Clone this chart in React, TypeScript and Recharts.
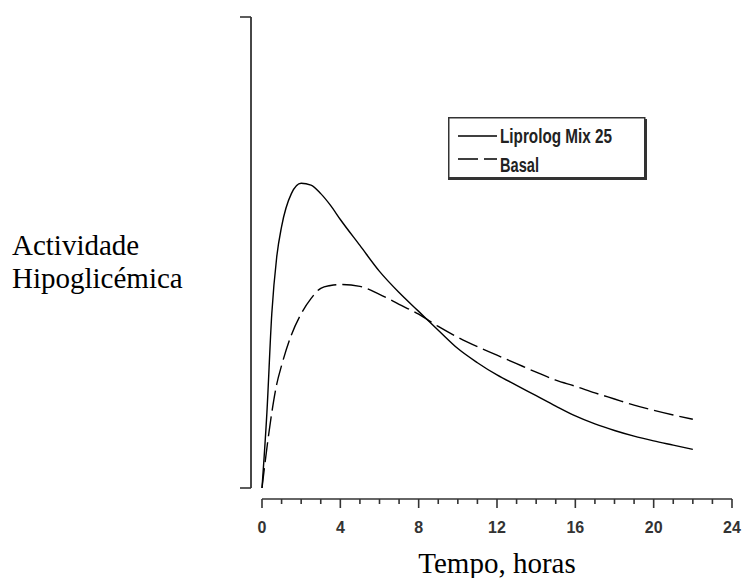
import { LineChart, Line, XAxis, YAxis, Legend } from "recharts";

const hours = [0, 0.25, 0.5, 0.75, 1, 1.5, 2, 2.5, 3, 3.5, 4, 5, 6, 7, 8, 9, 10, 11, 12, 13, 14, 15, 16, 17, 18, 19, 20, 21, 22];
const lispro = [0, 16, 37, 49, 55.5, 62.5, 64.7, 64.3, 62.5, 60, 57, 51.5, 46, 41.5, 37.5, 33.5, 29.6, 26.6, 24, 21.8, 19.6, 17.4, 15.3, 13.6, 12.2, 11, 10, 9.1, 8.2];
const basal = [0, 8.5, 16, 22, 26, 32.5, 37, 40.2, 42.4, 43, 43.2, 42.8, 41.1, 39, 36.9, 34.3, 32, 30, 28.2, 26.4, 24.6, 22.9, 21.6, 20.2, 18.9, 17.6, 16.5, 15.5, 14.6];

const xTicks = Array.from({ length: 25 }, (_, i) => i);
const majorTicks = [0, 4, 8, 12, 16, 20, 24];
const yTicks = [0, 100];

const seriesNames = ["Liprolog Mix 25", "Basal"];
const yTitle = ["Actividade", "Hipoglicémica"];
const xTitle = "Tempo, horas";

const data = hours.map((h, i) => ({ h, lispro: lispro[i], basal: basal[i] }));

const W = 742;
const H = 578;
const PLOT_W = 470;
const PLOT_H = 471;
const AXIS_GAP = 11;
const INK = "#333";
const DASH = "20 6";

function XTick(props: any) {
  const { x, y, payload, index } = props;
  const v = payload.value;
  const major = majorTicks.includes(v);
  const ay = y + AXIS_GAP;
  return (
    <g>
      {index === 0 && <line x1={x} y1={ay} x2={x + PLOT_W} y2={ay} stroke={INK} strokeWidth={1.6} />}
      <line x1={x} y1={ay} x2={x} y2={ay + (major ? 9 : 5)} stroke={INK} strokeWidth={1.6} />
      {major && (
        <text x={x} y={y + 45} textAnchor="middle" fontFamily="Liberation Sans, Arial, sans-serif" fontSize={16} fontWeight="bold" fill={INK}>
          {v}
        </text>
      )}
    </g>
  );
}

function YTick(props: any) {
  const { x, y, payload } = props;
  const ax = x - AXIS_GAP;
  return (
    <g>
      <line x1={ax - 11} y1={y} x2={ax} y2={y} stroke={INK} strokeWidth={1.6} />
      {payload.value === 100 && <line x1={ax} y1={y} x2={ax} y2={y + PLOT_H} stroke={INK} strokeWidth={1.8} />}
    </g>
  );
}

function YTitle(props: any) {
  const vb = props.viewBox;
  return (
    <text x={vb.x + 12} y={vb.y + 238} fontFamily="Liberation Serif, Times New Roman, serif" fontSize={29} fill="#000">
      <tspan x={vb.x + 12}>{yTitle[0]}</tspan>
      <tspan x={vb.x + 12} dy={33}>{yTitle[1]}</tspan>
    </text>
  );
}

function XTitle(props: any) {
  const vb = props.viewBox;
  return (
    <text x={vb.x + vb.width / 2} y={vb.y + 85} textAnchor="middle" fontFamily="Liberation Serif, Times New Roman, serif" fontSize={29} fill="#000">
      {xTitle}
    </text>
  );
}

function LegendBox() {
  const font = "Liberation Sans, Arial, sans-serif";
  return (
    <svg width={200} height={64} style={{ display: "block" }}>
      <rect x={0.75} y={0.75} width={196} height={60} fill="#fff" stroke={INK} strokeWidth={1.5} />
      <line x1={198} y1={2} x2={198} y2={63} stroke={INK} strokeWidth={2} />
      <line x1={0} y1={62} x2={199} y2={62} stroke={INK} strokeWidth={2} />
      <line x1={10} y1={19} x2={49} y2={19} stroke="#000" strokeWidth={1.4} />
      <line x1={10} y1={42} x2={49} y2={42} stroke="#000" strokeWidth={1.4} strokeDasharray={DASH} />
      <text x={52} y={26} fontFamily={font} fontSize={20} fontWeight="bold" fill="#222" textLength={112} lengthAdjust="spacingAndGlyphs">
        {seriesNames[0]}
      </text>
      <text x={52} y={55} fontFamily={font} fontSize={20} fontWeight="bold" fill="#222" textLength={39} lengthAdjust="spacingAndGlyphs">
        {seriesNames[1]}
      </text>
    </svg>
  );
}

export default function App() {
  return (
    <div style={{ position: "absolute", left: 0, top: 0, width: W, height: H, background: "#fff" }}>
      <LineChart width={W} height={H} data={data} margin={{ top: 17, right: 10, bottom: 0, left: 0 }}>
        <XAxis
          dataKey="h"
          type="number"
          domain={[0, 24]}
          ticks={xTicks}
          interval={0}
          axisLine={false}
          tickLine={false}
          tickSize={0}
          tickMargin={0}
          height={90}
          tick={XTick}
          label={XTitle}
        />
        <YAxis
          type="number"
          domain={[0, 100]}
          ticks={yTicks}
          interval={0}
          axisLine={false}
          tickLine={false}
          tickSize={0}
          tickMargin={0}
          width={262}
          tick={YTick}
          label={YTitle}
        />
        <Legend
          layout="vertical"
          align="center"
          verticalAlign="middle"
          wrapperStyle={{ left: 448, top: 117, width: 200, height: 64 }}
          content={LegendBox}
        />
        <Line type="monotone" dataKey="lispro" name={seriesNames[0]} stroke="#000" strokeWidth={1.4} dot={false} isAnimationActive={false} />
        <Line type="monotone" dataKey="basal" name={seriesNames[1]} stroke="#000" strokeWidth={1.4} strokeDasharray={DASH} dot={false} isAnimationActive={false} />
      </LineChart>
    </div>
  );
}
